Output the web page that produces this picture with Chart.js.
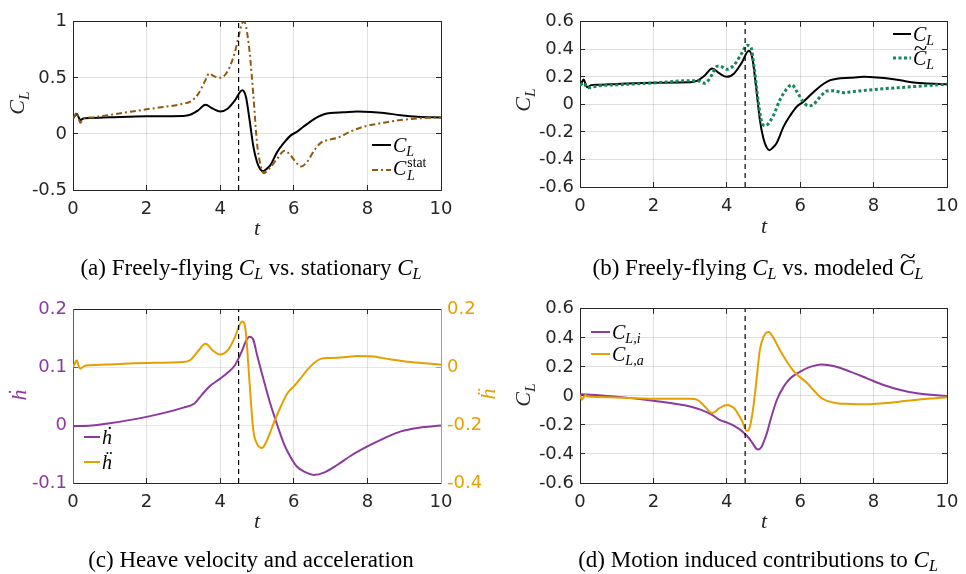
<!DOCTYPE html>
<html><head><meta charset="utf-8">
<script src="https://cdn.jsdelivr.net/npm/chart.js@4.4.1/dist/chart.umd.min.js"></script>
<style>
html,body{margin:0;padding:0;background:#fff;}
body{width:966px;height:574px;position:relative;overflow:hidden;font-family:"Liberation Serif","Times New Roman",serif;}
canvas{position:absolute;display:block;}
.lab{position:absolute;white-space:nowrap;color:#262626;transform:translate(-50%,-50%);line-height:1;z-index:2;}
.rot{transform:translate(-50%,-50%) rotate(-90deg);}
.ax{font-size:22px;}
.cap{font-size:23px;color:#000;}
.mi{font-style:italic;}
sub{font-size:0.7em;vertical-align:-0.3em;line-height:0;}
.ss{display:inline-flex;flex-direction:column;vertical-align:middle;font-size:0.68em;line-height:0.95;margin-left:1px;}
.tc{position:relative;display:inline-block;}
.tl{position:absolute;left:0.12em;top:-0.5em;font-style:normal;transform:scaleX(1.25);}
.leg{position:absolute;display:flex;align-items:center;transform:translateY(-50%);font-size:20px;color:#000;white-space:nowrap;line-height:1;z-index:2;}
.leg svg{display:block;margin-right:2px;}
</style>
</head><body>
<canvas id="ca" width="483" height="287" style="left:0;top:0"></canvas>
<canvas id="cb" width="520" height="287" style="left:483px;top:0"></canvas>
<canvas id="cc" width="483" height="287" style="left:0;top:287px"></canvas>
<canvas id="cd" width="520" height="287" style="left:483px;top:287px"></canvas>

<!-- axis labels -->
<div class="lab ax rot" style="left:17px;top:103px"><span class="mi">C</span><sub class="mi">L</sub></div>
<div class="lab ax" style="left:257px;top:228px"><span class="mi">t</span></div>
<div class="lab ax rot" style="left:523px;top:100px"><span class="mi">C</span><sub class="mi">L</sub></div>
<div class="lab ax" style="left:764px;top:226px"><span class="mi">t</span></div>
<div class="lab ax rot" style="left:19px;top:395px;color:#8b3a9e"><span class="mi">ḣ</span></div>
<div class="lab ax rot" style="left:488px;top:394px;color:#e69f00"><span class="mi">ḧ</span></div>
<div class="lab ax" style="left:257px;top:521px"><span class="mi">t</span></div>
<div class="lab ax rot" style="left:523px;top:395px"><span class="mi">C</span><sub class="mi">L</sub></div>
<div class="lab ax" style="left:764px;top:521px"><span class="mi">t</span></div>

<!-- captions -->
<div class="lab cap" style="left:251px;top:267px">(a) Freely-flying <span class="mi">C</span><sub class="mi">L</sub> vs. stationary <span class="mi">C</span><sub class="mi">L</sub></div>
<div class="lab cap" style="left:758px;top:267px">(b) Freely-flying <span class="mi">C</span><sub class="mi">L</sub> vs. modeled <span class="tc"><span class="mi">C</span><span class="tl">~</span></span><sub class="mi">L</sub></div>
<div class="lab cap" style="left:251px;top:559px">(c) Heave velocity and acceleration</div>
<div class="lab cap" style="left:758px;top:559px">(d) Motion induced contributions to <span class="mi">C</span><sub class="mi">L</sub></div>

<!-- legends -->
<div class="leg" style="left:372px;top:145px"><svg width="19" height="4"><line x1="0" y1="2" x2="19" y2="2" stroke="#000" stroke-width="2"/></svg><span><span class="mi">C</span><sub class="mi">L</sub></span></div>
<div class="leg" style="left:372px;top:170px"><svg width="19" height="4"><line x1="0" y1="2" x2="19" y2="2" stroke="#8f5b12" stroke-width="2" stroke-dasharray="6 3 2 3"/></svg><span><span class="mi">C</span><span class="ss"><span>stat</span><span class="mi">L</span></span></span></div>
<div class="leg" style="left:893px;top:34px"><svg width="18" height="4"><line x1="0" y1="2" x2="18" y2="2" stroke="#000" stroke-width="2"/></svg><span><span class="mi">C</span><sub class="mi">L</sub></span></div>
<div class="leg" style="left:893px;top:58px"><svg width="18" height="4"><line x1="0" y1="2" x2="18" y2="2" stroke="#17875a" stroke-width="3" stroke-dasharray="3 2.5"/></svg><span><span class="tc"><span class="mi">C</span><span class="tl">~</span></span><sub class="mi">L</sub></span></div>
<div class="leg" style="left:84px;top:437px"><svg width="16" height="4"><line x1="0" y1="2" x2="16" y2="2" stroke="#8b3a9e" stroke-width="2"/></svg><span><span class="mi">ḣ</span></span></div>
<div class="leg" style="left:84px;top:462px"><svg width="16" height="4"><line x1="0" y1="2" x2="16" y2="2" stroke="#e69f00" stroke-width="2"/></svg><span><span class="mi">ḧ</span></span></div>
<div class="leg" style="left:591px;top:332px"><svg width="19" height="4"><line x1="0" y1="2" x2="19" y2="2" stroke="#8b3a9e" stroke-width="2"/></svg><span><span class="mi">C</span><sub class="mi">L,i</sub></span></div>
<div class="leg" style="left:591px;top:354px"><svg width="19" height="4"><line x1="0" y1="2" x2="19" y2="2" stroke="#e69f00" stroke-width="2"/></svg><span><span class="mi">C</span><sub class="mi">L,a</sub></span></div>

<script>
// ---------- data ----------
const xTicks = [0, 2, 4, 6, 8, 10];
const yTicksA = [-0.5, 0, 0.5, 1];
const yTicksB = [-0.6, -0.4, -0.2, 0, 0.2, 0.4, 0.6];
const yTicksC = [-0.1, 0, 0.1, 0.2];
const y2TicksC = [-0.4, -0.2, 0, 0.2];
const yTicksD = [-0.6, -0.4, -0.2, 0, 0.2, 0.4, 0.6];
const switchT = 4.5;

// freely-flying C_L
const clT = [0, 0.05, 0.1, 0.15, 0.2, 0.3, 0.5, 1, 2, 3, 3.2, 3.4, 3.6, 3.8, 4.0, 4.2, 4.4, 4.6, 4.7, 4.8, 4.9, 5.0, 5.08, 5.16, 5.25, 5.36, 5.55, 5.73, 5.91, 6.09, 6.27, 6.45, 6.64, 6.82, 7.0, 7.36, 7.73, 8.09, 8.45, 8.9, 9.36, 10];
const clV = [0.138, 0.16, 0.18, 0.15, 0.124, 0.14, 0.142, 0.148, 0.158, 0.16, 0.173, 0.21, 0.26, 0.225, 0.2, 0.225, 0.30, 0.39, 0.33, 0.12, -0.11, -0.25, -0.31, -0.333, -0.315, -0.28, -0.16, -0.08, -0.015, 0.02, 0.066, 0.11, 0.15, 0.176, 0.187, 0.193, 0.2, 0.196, 0.187, 0.167, 0.153, 0.147];

// stationary C_L
const clsT = [0, 0.05, 0.1, 0.15, 0.2, 0.3, 0.5, 1, 2, 3, 3.2, 3.4, 3.6, 3.7, 3.8, 4.0, 4.2, 4.4, 4.5, 4.6, 4.65, 4.7, 4.8, 4.9, 5.0, 5.1, 5.18, 5.36, 5.55, 5.75, 5.91, 6.09, 6.2, 6.36, 6.55, 6.73, 6.91, 7.18, 7.55, 7.91, 8.45, 8.91, 9.36, 10];
const clsV = [0.138, 0.165, 0.19, 0.14, 0.1, 0.14, 0.147, 0.17, 0.22, 0.27, 0.29, 0.355, 0.48, 0.54, 0.52, 0.50, 0.56, 0.73, 0.87, 0.99, 1.0, 0.96, 0.73, 0.35, -0.08, -0.28, -0.35, -0.30, -0.22, -0.15, -0.19, -0.265, -0.29, -0.25, -0.15, -0.08, -0.055, -0.035, 0.023, 0.066, 0.10, 0.124, 0.138, 0.147];

// modeled C_L (tilde)
const clmT = [0, 0.1, 0.2, 0.5, 1, 2, 3, 3.2, 3.4, 3.6, 3.7, 3.8, 4.0, 4.2, 4.4, 4.55, 4.65, 4.75, 4.85, 4.95, 5.05, 5.27, 5.45, 5.64, 5.77, 5.91, 6.09, 6.23, 6.36, 6.55, 6.73, 6.91, 7.18, 7.45, 8.0, 8.91, 10];
const clmV = [0.14, 0.155, 0.12, 0.135, 0.142, 0.156, 0.172, 0.172, 0.154, 0.218, 0.27, 0.28, 0.255, 0.287, 0.368, 0.43, 0.42, 0.26, 0.035, -0.126, -0.155, -0.08, 0.035, 0.115, 0.143, 0.092, 0.016, -0.011, 0.0, 0.057, 0.097, 0.099, 0.085, 0.094, 0.108, 0.126, 0.147];

// heave velocity h-dot
const hdT = [0, 0.5, 1, 2, 3, 3.3, 3.5, 3.7, 4.0, 4.2, 4.4, 4.5, 4.6, 4.7, 4.8, 4.9, 5.0, 5.18, 5.36, 5.55, 5.73, 5.91, 6.09, 6.27, 6.55, 6.82, 7.18, 7.55, 8.0, 8.45, 8.91, 9.36, 10];
const hdV = [-0.002, -0.001, 0.003, 0.014, 0.030, 0.037, 0.052, 0.066, 0.080, 0.090, 0.103, 0.115, 0.129, 0.145, 0.152, 0.147, 0.121, 0.078, 0.037, 0.0, -0.032, -0.055, -0.072, -0.080, -0.086, -0.082, -0.069, -0.053, -0.037, -0.023, -0.011, -0.005, -0.001];

// heave acceleration h-ddot
const hddT = [0, 0.05, 0.1, 0.15, 0.2, 0.3, 0.5, 1, 2, 3, 3.2, 3.4, 3.6, 3.8, 4.0, 4.2, 4.4, 4.5, 4.6, 4.65, 4.7, 4.8, 4.9, 5.0, 5.14, 5.27, 5.45, 5.64, 5.82, 6.0, 6.18, 6.36, 6.55, 6.73, 7.0, 7.36, 7.73, 8.09, 8.64, 9.18, 10];
const hddV = [0, 0.012, 0.023, 0.005, -0.006, 0.003, 0.006, 0.009, 0.014, 0.017, 0.025, 0.055, 0.08, 0.057, 0.043, 0.057, 0.103, 0.138, 0.157, 0.152, 0.115, -0.057, -0.218, -0.264, -0.279, -0.253, -0.195, -0.138, -0.092, -0.067, -0.040, -0.011, 0.014, 0.028, 0.031, 0.034, 0.038, 0.037, 0.026, 0.017, 0.008];

// C_L,i
const cliT = [0, 0.5, 1, 2, 3, 3.3, 3.6, 3.8, 4.0, 4.2, 4.4, 4.6, 4.7, 4.8, 4.85, 4.95, 5.0, 5.1, 5.18, 5.36, 5.55, 5.73, 6.0, 6.27, 6.59, 6.91, 7.36, 7.82, 8.27, 8.73, 9.18, 10];
const cliV = [0.011, 0.005, -0.005, -0.034, -0.073, -0.096, -0.13, -0.165, -0.183, -0.206, -0.24, -0.29, -0.325, -0.362, -0.37, -0.35, -0.32, -0.25, -0.175, -0.03, 0.064, 0.121, 0.167, 0.2, 0.217, 0.206, 0.167, 0.121, 0.075, 0.041, 0.018, 0.0];

// C_L,a
const claT = [0, 0.05, 0.1, 0.15, 0.2, 0.5, 1, 2, 3, 3.2, 3.4, 3.6, 3.8, 4.0, 4.2, 4.4, 4.55, 4.6, 4.7, 4.8, 4.9, 5.0, 5.14, 5.27, 5.45, 5.64, 5.82, 6.0, 6.18, 6.36, 6.55, 6.73, 7.0, 7.36, 7.82, 8.27, 8.91, 9.55, 10];
const claV = [0.007, -0.027, -0.01, 0.007, -0.005, -0.007, -0.011, -0.02, -0.02, -0.027, -0.073, -0.119, -0.085, -0.062, -0.085, -0.165, -0.24, -0.233, -0.119, 0.087, 0.315, 0.407, 0.44, 0.40, 0.315, 0.235, 0.171, 0.128, 0.091, 0.041, -0.009, -0.034, -0.05, -0.055, -0.057, -0.05, -0.034, -0.018, -0.009];

// ---------- styling ----------
const AXC = '#262626';
const GRID = 'rgba(38,38,38,0.15)';
const PURPLE = '#8b3a9e';
const ORANGE = '#e69f00';
const BROWN = '#8f5b12';
const GREEN = '#17875a';
const TFONT = {family: '"DejaVu Sans", sans-serif', size: 18};
const TL = -5;   // inward tick marks
const EXTRA = 37; // right overhang of the (b)/(d) canvases

const fmt = v => (Math.round(v * 10) / 10).toString();

function lineDS(t, v, color, extra) {
  return Object.assign({
    data: t.map((x, i) => ({x: x, y: v[i]})),
    borderColor: color, borderWidth: 2, pointRadius: 0,
    cubicInterpolationMode: 'monotone', fill: false, xAxisID: 'x', yAxisID: 'y'
  }, extra || {});
}
function dashDS(lo, hi) {
  return {data: [{x: switchT, y: lo}, {x: switchT, y: hi}], borderColor: '#000', borderWidth: 1.2,
    borderDash: [5, 4], pointRadius: 0, tension: 0, fill: false, xAxisID: 'x', yAxisID: 'y'};
}

function setTicks(list) { return s => { s.ticks = list.map(v => ({value: v})); }; }

function xAxes() {
  return {
    x: {
      type: 'linear', min: 0, max: 10, position: 'bottom',
      afterBuildTicks: setTicks(xTicks),
      ticks: {font: TFONT, color: AXC, padding: 9 - TL, maxRotation: 0, autoSkip: false, callback: fmt},
      grid: {color: GRID, drawTicks: true, tickLength: TL, tickColor: AXC, lineWidth: 1},
      border: {display: true, color: AXC, width: 1},
      afterFit: s => { s.height = 40; }
    },
    xt: {
      type: 'linear', min: 0, max: 10, position: 'top',
      afterBuildTicks: setTicks(xTicks),
      ticks: {display: false},
      grid: {drawOnChartArea: false, drawTicks: true, tickLength: TL, tickColor: AXC},
      border: {display: true, color: AXC, width: 1},
      afterFit: s => { s.height = 0; }
    }
  };
}
function yAxis(min, max, list, color, gridColor, pos, width, labels) {
  return {
    type: 'linear', min: min, max: max, position: pos,
    afterBuildTicks: setTicks(list),
    ticks: labels ? {font: TFONT, color: color, padding: 6 - TL, autoSkip: false, callback: fmt} : {display: false},
    grid: {display: true, drawOnChartArea: !!gridColor, color: gridColor || 'rgba(0,0,0,0)', drawTicks: true, tickLength: TL, tickColor: color, lineWidth: 1},
    border: {display: true, color: color, width: 1},
    afterFit: s => { s.width = width; }
  };
}

function make(id, datasets, scales, padding) {
  return new Chart(document.getElementById(id), {
    type: 'line',
    data: {datasets: datasets},
    options: {
      responsive: false, animation: false, devicePixelRatio: 1,
      layout: {padding: padding},
      scales: scales,
      plugins: {legend: {display: false}, tooltip: {enabled: false}}
    }
  });
}

// (a) area: L73 R441 T17 B190
make('ca', [
  dashDS(-0.5, 1),
  lineDS(clsT, clsV, BROWN, {borderDash: [6, 3, 2, 3]}),
  lineDS(clT, clV, '#000')
], Object.assign(xAxes(), {
  y: yAxis(-0.5, 1, yTicksA, AXC, GRID, 'left', 60, true),
  yr: yAxis(-0.5, 1, yTicksA, AXC, null, 'right', 0, false)
}), {left: 13, right: 42, top: 17, bottom: 57});

// (b) area: L97 R464 T13 B187
make('cb', [
  dashDS(-0.6, 0.6),
  lineDS(clmT, clmV, GREEN, {borderDash: [3, 2.5], borderWidth: 3}),
  lineDS(clT, clV, '#000')
], Object.assign(xAxes(), {
  y: yAxis(-0.6, 0.6, yTicksB, AXC, GRID, 'left', 60, true),
  yr: yAxis(-0.6, 0.6, yTicksB, AXC, null, 'right', 0, false)
}), {left: 37, right: 19 + EXTRA, top: 13, bottom: 60});

// (c) area: L73 R441 T22 B196
make('cc', [
  dashDS(-0.1, 0.2),
  lineDS(hddT, hddV, ORANGE, {yAxisID: 'y2'}),
  lineDS(hdT, hdV, PURPLE)
], Object.assign(xAxes(), {
  y: yAxis(-0.1, 0.2, yTicksC, PURPLE, 'rgba(139,58,158,0.15)', 'left', 60, true),
  y2: yAxis(-0.4, 0.2, y2TicksC, ORANGE, null, 'right', 42, true)
}), {left: 13, right: 0, top: 22, bottom: 51});

// (d) area: L97 R464 T21 B196
make('cd', [
  dashDS(-0.6, 0.6),
  lineDS(claT, claV, ORANGE),
  lineDS(cliT, cliV, PURPLE)
], Object.assign(xAxes(), {
  y: yAxis(-0.6, 0.6, yTicksD, AXC, GRID, 'left', 60, true),
  yr: yAxis(-0.6, 0.6, yTicksD, AXC, null, 'right', 0, false)
}), {left: 37, right: 19 + EXTRA, top: 21, bottom: 51});
</script>
</body></html>
